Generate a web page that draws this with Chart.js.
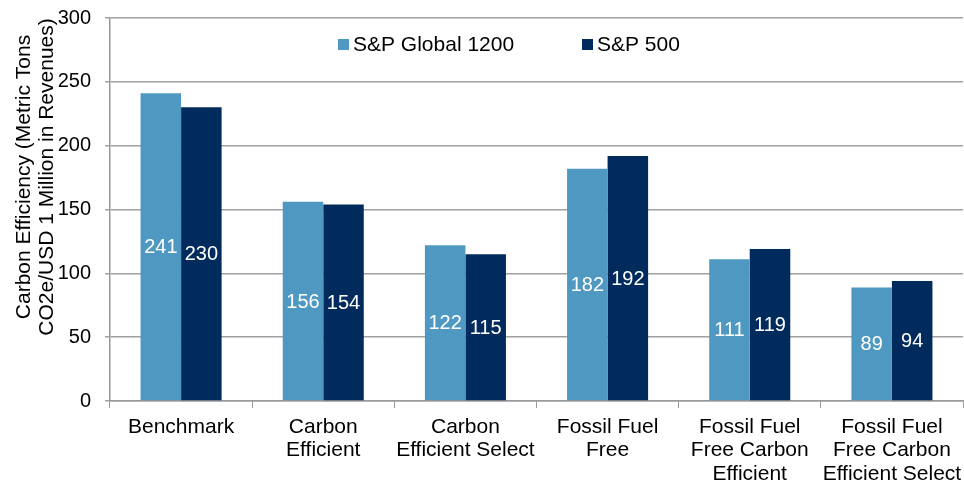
<!DOCTYPE html>
<html>
<head>
<meta charset="utf-8">
<script src="https://cdn.jsdelivr.net/npm/chart.js@4"></script>
<style>
  html, body { margin: 0; padding: 0; background: #fff; }
  #wrap { width: 964px; height: 484px; position: relative; }
</style>
</head>
<body>
<div id="wrap"><canvas id="c" width="964" height="484"></canvas></div>
<script>
const categories = [
  ['Benchmark'],
  ['Carbon', 'Efficient'],
  ['Carbon', 'Efficient Select'],
  ['Fossil Fuel', 'Free'],
  ['Fossil Fuel', 'Free Carbon', 'Efficient'],
  ['Fossil Fuel', 'Free Carbon', 'Efficient Select']
];
const seriesNames = ['S&P Global 1200', 'S&P 500'];
const global1200 = [241, 156, 122, 182, 111, 89];
const sp500 = [230, 154, 115, 192, 119, 94];
const yTicks = [0, 50, 100, 150, 200, 250, 300];
const yTitle = ['Carbon Efficiency (Metric Tons', 'CO2e/USD 1 Million in Revenues)'];

const LIGHT = '#4e98c2';
const DARK = '#002b5c';
const FONT = "'Liberation Sans', Arial, sans-serif";

const extrasPlugin = {
  id: 'extras',
  afterDatasetsDraw(chart) {
    const ctx = chart.ctx;
    ctx.save();
    ctx.fillStyle = '#ffffff';
    ctx.font = '20px ' + FONT;
    ctx.textAlign = 'center';
    ctx.textBaseline = 'middle';
    chart.data.datasets.forEach((ds, di) => {
      const meta = chart.getDatasetMeta(di);
      meta.data.forEach((bar, i) => {
        const p = bar.getProps(['x', 'y', 'base'], true);
        ctx.fillText(String(ds.data[i]), p.x, (p.y + p.base) / 2 + 1);
      });
    });
    ctx.restore();
  },
  afterDraw(chart) {
    const ctx = chart.ctx;
    ctx.save();
    ctx.font = '21px ' + FONT;
    ctx.textBaseline = 'middle';
    ctx.textAlign = 'left';
    const legendX = [338, 582];
    chart.data.datasets.forEach((ds, di) => {
      ctx.fillStyle = ds.backgroundColor;
      ctx.fillRect(legendX[di], 39, 11, 11);
      ctx.fillStyle = '#000000';
      ctx.fillText(ds.label, legendX[di] + 15, 45);
    });
    ctx.translate(24, 177);
    ctx.rotate(-Math.PI / 2);
    ctx.textAlign = 'center';
    ctx.fillStyle = '#000000';
    yTitle.forEach((line, i) => {
      ctx.fillText(line, 0, i * 23);
    });
    ctx.restore();
  }
};

new Chart(document.getElementById('c'), {
  type: 'bar',
  data: {
    labels: categories,
    datasets: [
      { label: seriesNames[0], data: global1200, backgroundColor: LIGHT },
      { label: seriesNames[1], data: sp500, backgroundColor: DARK }
    ]
  },
  options: {
    responsive: false,
    animation: false,
    devicePixelRatio: 1,
    layout: { padding: { top: 18, right: 1, left: 0, bottom: 0 } },
    datasets: { bar: { categoryPercentage: 0.57, barPercentage: 1.0 } },
    plugins: {
      legend: { display: false },
      tooltip: { enabled: false },
      title: { display: false }
    },
    scales: {
      x: {
        grid: { drawOnChartArea: false, drawTicks: true, tickLength: 7, color: '#999999', offset: true },
        border: { color: '#999999', width: 1.5 },
        ticks: { color: '#000000', font: { family: FONT, size: 21, lineHeight: 1.13 }, padding: 7, maxRotation: 0, autoSkip: false },
        afterFit(scale) { scale.height = 83; scale.paddingLeft = 0; scale.paddingRight = 0; }
      },
      y: {
        min: 0,
        max: 300,
        afterBuildTicks(scale) { scale.ticks = yTicks.map(v => ({ value: v })); },
        grid: { color: '#a0a0a0', lineWidth: 1.5, drawTicks: true, tickLength: 5 },
        border: { color: '#999999', width: 1.5 },
        ticks: { color: '#000000', font: { family: FONT, size: 20 }, padding: 14 },
        afterFit(scale) { scale.width = 110; scale.paddingTop = 0; scale.paddingBottom = 0; }
      }
    }
  },
  plugins: [extrasPlugin]
});
</script>
</body>
</html>
